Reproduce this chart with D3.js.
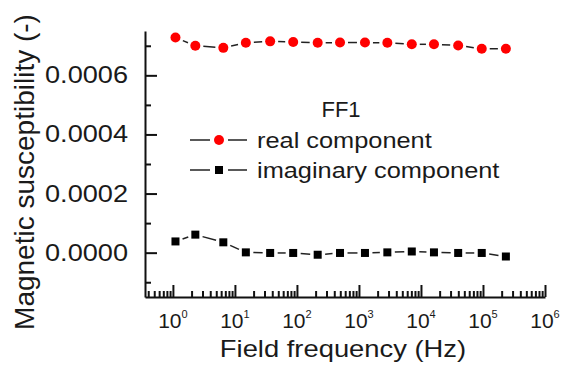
<!DOCTYPE html>
<html>
<head>
<meta charset="utf-8">
<script src="https://cdn.jsdelivr.net/npm/d3@7"></script>
<style>
  html, body { margin: 0; padding: 0; background: #fff; }
  svg { display: block; }
  text { font-family: "Liberation Sans", Arial, Helvetica, sans-serif; fill: #1a1a1a; }
</style>
</head>
<body>
<script>
// ---- data ----
const frequencies = [1.1, 2.3, 6.5, 15, 37, 87, 216, 495, 1250, 2870, 7110, 16200, 39800, 95500, 234000];
const realValues = [0.000728, 0.000700, 0.000693, 0.000710, 0.000715, 0.000713, 0.000710, 0.000711, 0.000711, 0.000710, 0.000705, 0.000705, 0.000701, 0.000690, 0.000690];
const imagValues = [0.000038, 0.000061, 0.000035, 0.000001, -0.000001, -0.000001, -0.000007, -0.000001, -0.000001, 0.000001, 0.000004, 0.000001, -0.000001, -0.000001, -0.000013];
const seriesNames = ["real component", "imaginary component"];
const sampleLabel = "FF1";
const yMajorTicks = [0, 0.0002, 0.0004, 0.0006];
const yTickLabels = ["0.0000", "0.0002", "0.0004", "0.0006"];
const yMinorTicks = [-0.0001, 0.0001, 0.0003, 0.0005, 0.0007];
const xExponents = [0, 1, 2, 3, 4, 5, 6];
const xTitle = "Field frequency (Hz)";
const yTitle = "Magnetic susceptibility (-)";

// ---- layout ----
const W = 563, H = 367;
const svg = d3.select("body").append("svg").attr("width", W).attr("height", H);
svg.append("rect").attr("width", W).attr("height", H).attr("fill", "#fff");

const x = d3.scaleLog().domain([Math.pow(10, -0.45), 1e6]).range([145, 545]);
const y = d3.scaleLinear().domain([-0.00015, 0.00075]).range([297, 31]);

const xMinorTicks = [];
for (let e = -1; e <= 5; e++) for (let k = 2; k <= 9; k++) {
  const v = k * Math.pow(10, e);
  if (v >= x.domain()[0] && v <= x.domain()[1]) xMinorTicks.push(v);
}

function styleAxis(g) {
  g.selectAll("path.domain").attr("stroke", "#111").attr("stroke-width", 2);
  g.selectAll(".tick line").attr("stroke", "#111").attr("stroke-width", 2);
  g.selectAll(".tick text").remove();
}

// y axis
svg.append("g").attr("transform", "translate(145,0)")
  .call(d3.axisLeft(y).tickValues(yMajorTicks).tickSize(-12).tickSizeOuter(0).tickFormat(""))
  .call(styleAxis);
svg.append("g").attr("transform", "translate(145,0)")
  .call(d3.axisLeft(y).tickValues(yMinorTicks).tickSize(-6).tickSizeOuter(0).tickFormat(""))
  .call(styleAxis).call(g => g.select("path.domain").remove());

// x axis
svg.append("g").attr("transform", "translate(0,297)")
  .call(d3.axisBottom(x).tickValues(xExponents.map(e => Math.pow(10, e))).tickSize(-12).tickSizeOuter(0).tickFormat(""))
  .call(styleAxis);
svg.append("g").attr("transform", "translate(0,297)")
  .call(d3.axisBottom(x).tickValues(xMinorTicks).tickSize(-6).tickSizeOuter(0).tickFormat(""))
  .call(styleAxis).call(g => g.select("path.domain").remove());

// y tick labels
yMajorTicks.forEach((v, i) => {
  svg.append("text")
    .attr("transform", `translate(128,${y(v) + 8}) scale(1.18,1)`)
    .attr("text-anchor", "end")
    .attr("font-size", 23)
    .text(yTickLabels[i]);
});

// x tick labels
xExponents.forEach(e => {
  const t = svg.append("text")
    .attr("x", x(Math.pow(10, e)))
    .attr("y", 328)
    .attr("text-anchor", "middle")
    .attr("font-size", 21);
  t.append("tspan").text("10");
  t.append("tspan").attr("font-size", 11).attr("dy", -10).text(String(e));
});

// axis titles
svg.append("text")
  .attr("transform", "translate(343,357) scale(1.19,1)")
  .attr("text-anchor", "middle")
  .attr("font-size", 23)
  .text(xTitle);
svg.append("text")
  .attr("transform", "translate(34,172) rotate(-90)")
  .attr("text-anchor", "middle")
  .attr("font-size", 28)
  .text(yTitle);

// connecting lines with gaps around markers
function gappedLines(values, gap) {
  const pts = frequencies.map((f, i) => [x(f), y(values[i])]);
  const g = svg.append("g");
  for (let i = 0; i < pts.length - 1; i++) {
    const [x1, y1] = pts[i], [x2, y2] = pts[i + 1];
    const dx = x2 - x1, dy = y2 - y1, len = Math.hypot(dx, dy);
    if (len <= 2 * gap) continue;
    const ux = dx / len, uy = dy / len;
    g.append("line")
      .attr("x1", x1 + ux * gap).attr("y1", y1 + uy * gap)
      .attr("x2", x2 - ux * gap).attr("y2", y2 - uy * gap)
      .attr("stroke", "#222").attr("stroke-width", 1.5);
  }
}
gappedLines(realValues, 8);
gappedLines(imagValues, 7.5);

svg.append("g").selectAll("circle").data(realValues).join("circle")
  .attr("cx", (d, i) => x(frequencies[i]))
  .attr("cy", d => y(d))
  .attr("r", 5)
  .attr("fill", "#f00");

svg.append("g").selectAll("rect").data(imagValues).join("rect")
  .attr("x", (d, i) => x(frequencies[i]) - 4)
  .attr("y", d => y(d) - 4)
  .attr("width", 8).attr("height", 8)
  .attr("fill", "#000");

// legend
svg.append("text")
  .attr("x", 341).attr("y", 117)
  .attr("text-anchor", "middle")
  .attr("font-size", 22)
  .text(sampleLabel);

const legendRows = [140, 170];
seriesNames.forEach((name, i) => {
  const cy = legendRows[i];
  const g = svg.append("g");
  g.append("line").attr("x1", 190).attr("x2", 210).attr("y1", cy).attr("y2", cy)
    .attr("stroke", "#222").attr("stroke-width", 1.5);
  g.append("line").attr("x1", 228).attr("x2", 247).attr("y1", cy).attr("y2", cy)
    .attr("stroke", "#222").attr("stroke-width", 1.5);
  if (i === 0) {
    g.append("circle").attr("cx", 219).attr("cy", cy).attr("r", 5).attr("fill", "#f00");
  } else {
    g.append("rect").attr("x", 215).attr("y", cy - 4).attr("width", 8).attr("height", 8).attr("fill", "#000");
  }
  g.append("text")
    .attr("transform", `translate(257,${cy + 7.5}) scale(1.18,1)`)
    .attr("font-size", 21.5)
    .text(name);
});
</script>
</body>
</html>
